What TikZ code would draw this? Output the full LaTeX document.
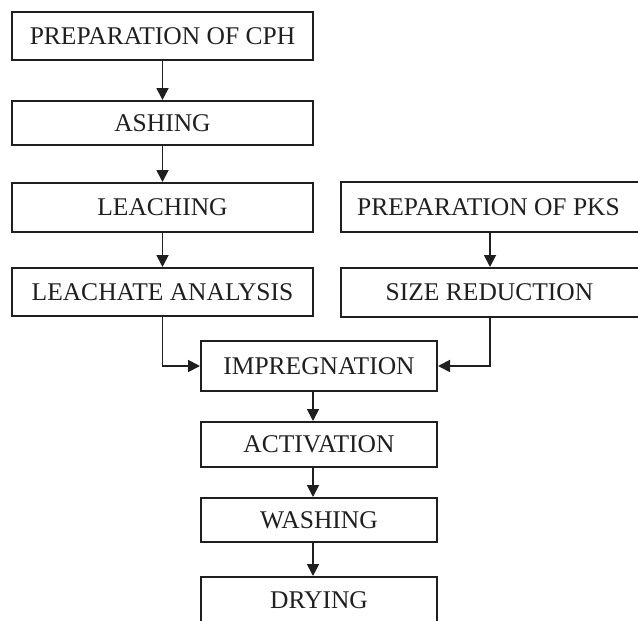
\documentclass[tikz,border=0pt]{standalone}
\usepackage{fontspec}
\setmainfont{Liberation Serif}
\usetikzlibrary{arrows.meta}
\definecolor{ink}{gray}{0.12}
\begin{document}
\begin{tikzpicture}[x=1pt,y=-1pt,
  box/.style={draw=ink,line width=2pt,rectangle,inner sep=0pt,text=ink,
    font=\fontsize{25.5}{30}\selectfont},
  arr/.style={draw=ink,line width=1.8pt,-{Triangle[width=12pt,length=12pt]}}]
\useasboundingbox (0,0) rectangle (638,621);
\node[box,minimum width=301pt,minimum height=48pt] (cph) at (162.5,36) {PREPARATION OF CPH};
\node[box,minimum width=301pt,minimum height=44pt] (ash) at (162.5,123) {ASHING};
\node[box,minimum width=301pt,minimum height=49pt] (lea) at (162.5,207.5) {LEACHING};
\node[box,minimum width=301pt,minimum height=48pt] (ana) at (162.5,292) {LEACHATE ANALYSIS};
\node[box,minimum width=298pt,minimum height=50pt] (pks) at (489.5,207) {\hspace*{-2pt}PREPARATION OF PKS};
\node[box,minimum width=298pt,minimum height=49pt] (siz) at (489.5,292.5) {SIZE REDUCTION};
\node[box,minimum width=236pt,minimum height=50pt] (imp) at (319,366) {IMPREGNATION};
\node[box,minimum width=236pt,minimum height=45pt] (act) at (319,444.5) {ACTIVATION};
\node[box,minimum width=236pt,minimum height=44pt] (was) at (319,520) {WASHING};
\node[box,minimum width=236pt,minimum height=50pt,text depth=0pt] (dry) at (319,602) {\raisebox{3pt}{DRYING}};
\draw[arr] (cph) -- (ash);
\draw[arr] (ash) -- (lea);
\draw[arr] (lea) -- (ana);
\draw[arr] ([xshift=0.5pt]pks.south) -- ([xshift=0.5pt]siz.north);
\draw[arr] (ana.south) |- (imp.west);
\draw[arr] ([xshift=0.5pt]siz.south) |- (imp.east);
\draw[arr] ([xshift=-6pt]imp.south) -- ([xshift=-6pt]act.north);
\draw[arr] ([xshift=-6pt]act.south) -- ([xshift=-6pt]was.north);
\draw[arr] ([xshift=-6pt]was.south) -- ([xshift=-6pt]dry.north);
\end{tikzpicture}
\end{document}
